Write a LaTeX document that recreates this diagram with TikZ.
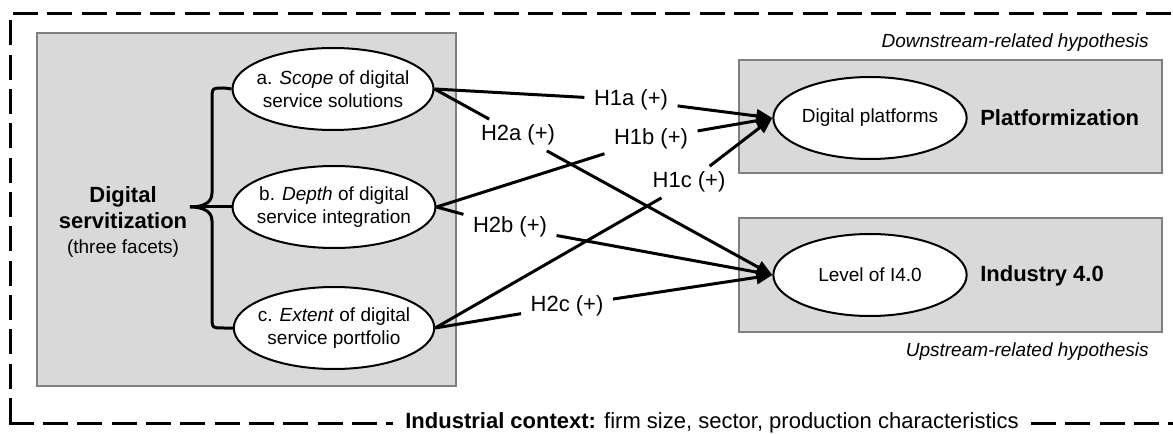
\documentclass[tikz,border=0pt]{standalone}
\usepackage{fontspec}
\setmainfont{Liberation Sans}
\usetikzlibrary{arrows.meta,shapes.geometric}
\definecolor{Ink}{HTML}{000000}
\definecolor{Panel}{HTML}{D9D9D9}
\definecolor{PanelLine}{HTML}{7F7F7F}
\tikzset{
  panel/.style={draw=PanelLine,line width=1.1pt,fill=Panel},
  facet/.style={ellipse,draw=Ink,line width=1.5pt,fill=white,inner sep=0pt,inner xsep=-4pt,minimum width=148pt,minimum height=61.5pt,align=center,text=Ink,font=\fontsize{14.25}{17.25}\selectfont},
  outcome/.style={facet,minimum width=145pt},
  hyp/.style={inner xsep=7pt,inner ysep=4pt,text=Ink,font=\fontsize{16.5}{19}\selectfont},
  link/.style={line width=2.25pt,draw=Ink},
  arrow/.style={link,-{Triangle[length=12pt,width=10pt]}},
  brace/.style={line width=2.25pt,draw=Ink},
  frame/.style={line width=2.25pt,draw=Ink,dash pattern=on 18.75pt off 7pt}
}
\begin{document}
\begin{tikzpicture}[x=0.75pt,y=-0.75pt]
  \useasboundingbox (0,0) rectangle (1173,434);
  \draw[panel] (37,33) rectangle (456,386);
  \draw[panel] (739,60) rectangle (1162,173);
  \draw[panel] (739,218) rectangle (1162,332);

  \node[facet] (sa) at (333,89) {a. \textit{Scope} of digital\\service solutions};
  \node[facet] (sb) at (334,207) {b. \textit{Depth} of digital\\service integration};
  \node[facet] (sc) at (334,328) {c. \textit{Extent} of digital\\service portfolio};
  \node[align=center,text=Ink,font=\fontsize{16.5}{19.2}\selectfont\bfseries] (ds) at (123,222) {Digital\\servitization\\\fontsize{14.25}{19.2}\selectfont\mdseries (three facets)};

  % brace
  \coordinate (tip) at (190,207);
  \draw[brace] (sa.west) -- (224,88) .. controls (212,88) .. (212,100) -- (212,193)
    .. controls (212,204) and (201,207) .. (tip) .. controls (201,207) and (212,210) .. (212,221)
    -- (212,316) .. controls (212,328) .. (224,328) -- (sc.west);
  \draw[brace] (tip) -- (sb.west);

  \node[outcome] (dp) at (870,118) {Digital platforms};
  \node[outcome] (lv) at (870,275) {Level of I4.0};
  \node[anchor=west,inner sep=0pt,text=Ink,font=\fontsize{16.5}{19}\selectfont\bfseries] (plat) at (980,118) {Platformization};
  \node[anchor=west,inner sep=0pt,text=Ink,font=\fontsize{16.5}{19}\selectfont\bfseries] (ind) at (980,276) {Industry 4.0};
  \node[anchor=east,inner sep=0pt,text=Ink,font=\fontsize{14.25}{17}\selectfont\itshape] (down) at (1149,43) {Downstream-related hypothesis};
  \node[anchor=east,inner sep=0pt,text=Ink,font=\fontsize{14.25}{17}\selectfont\itshape] (up) at (1149,352) {Upstream-related hypothesis};

  % hypotheses
  \node[hyp] (h1a) at (631,100) {H1a (+)};
  \node[hyp] (h2a) at (518,135) {H2a (+)};
  \node[hyp] (h1b) at (651,139) {H1b (+)};
  \node[hyp] (h1c) at (689,182) {H1c (+)};
  \node[hyp] (h2b) at (510,227) {H2b (+)};
  \node[hyp] (h2c) at (567,306) {H2c (+)};
  \draw[link] (sa.east) -- (h1a); \draw[arrow] (h1a) -- (dp.west);
  \draw[link] (sa.east) -- (h2a); \draw[arrow] (h2a) -- (lv.west);
  \draw[link] (sb.east) -- (h1b); \draw[arrow] (h1b) -- (dp.west);
  \draw[link] (sb.east) -- (h2b); \draw[arrow] (h2b) -- (lv.west);
  \draw[link] (sc.east) -- (h1c); \draw[arrow] (h1c) -- (dp.west);
  \draw[link] (sc.east) -- (h2c); \draw[arrow] (h2c) -- (lv.west);

  % context frame
  \node[inner xsep=9pt,inner ysep=0pt,text=Ink,font=\fontsize{16.5}{19}\selectfont] (ctx) at (712,423) {\textbf{Industrial context:} firm size, sector, production characteristics};
  \draw[frame] (10,423) -- (10,14) -- (1185,14);
  \draw[frame] (8.5,423) -- (ctx.west);
  \draw[frame] (ctx.east) -- (1185,423);
\end{tikzpicture}
\end{document}
